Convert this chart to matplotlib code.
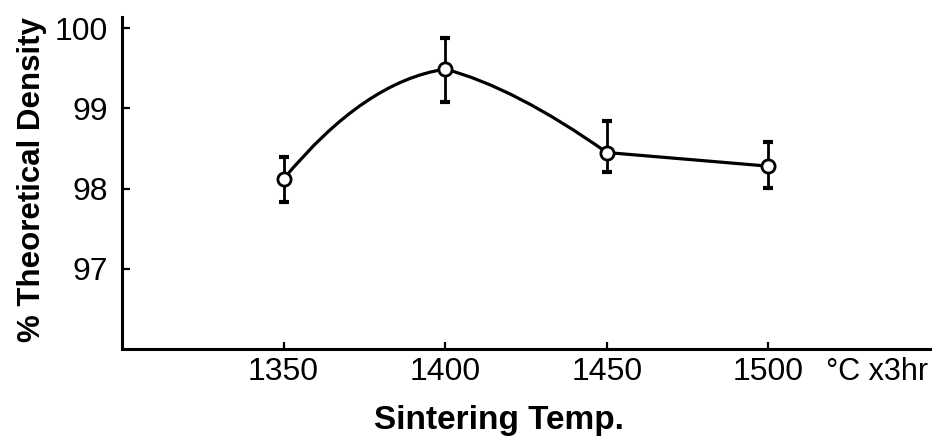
import matplotlib
matplotlib.use("Agg")
import matplotlib.pyplot as plt
from matplotlib.path import Path
from matplotlib.patches import PathPatch

# sintering temperature (deg C, 3 hr hold) vs. % of theoretical density
temps = [1350, 1400, 1450, 1500]
density = [98.12, 99.49, 98.45, 98.28]
density_hi = [98.39, 99.875, 98.84, 98.58]
density_lo = [97.83, 99.075, 98.21, 98.01]

y_ticks = [97, 98, 99, 100]
x_ticks = [1350, 1400, 1450, 1500]

# hand-drawn style curve: each segment bends through a control point placed
# at (fraction of run, fraction of rise); a 0.5/0.5 segment is straight
seg_bend = [(0.50, 0.89), (0.43, 0.22), (0.50, 0.50)]

TICK_FONT = ["Liberation Sans", "DejaVu Sans"]
LABEL_FONT = ["Liberation Sans", "DejaVu Sans"]

W, H = 948, 445
fig = plt.figure(figsize=(W / 100, H / 100), dpi=100)
ax = fig.add_axes([122 / W, 1 - 349 / H, (930 - 122) / W, (349 - 17) / H])

verts = [(temps[0], density[0])]
codes = [Path.MOVETO]
for i, (fx, fy) in enumerate(seg_bend):
    x0, x1 = temps[i], temps[i + 1]
    y0, y1 = density[i], density[i + 1]
    verts += [(x0 + fx * (x1 - x0), y0 + fy * (y1 - y0)), (x1, y1)]
    codes += [Path.CURVE3, Path.CURVE3]
ax.add_patch(PathPatch(Path(verts, codes), fill=False, edgecolor="black",
                       linewidth=2.3, capstyle="round", zorder=2))

yerr = [[d - lo for d, lo in zip(density, density_lo)],
        [hi - d for d, hi in zip(density, density_hi)]]
ax.errorbar(temps, density, yerr=yerr, fmt="none", ecolor="black",
            elinewidth=2.0, capsize=3.5, capthick=3, zorder=3)
ax.plot(temps, density, "o", mfc="white", mec="black", ms=9.5, mew=2.0, zorder=4)

ax.set_xlim(1300, 1550)
ax.set_ylim(96, 100.14)
ax.set_xticks(x_ticks)
ax.set_yticks(y_ticks)
ax.set_xticklabels([str(t) for t in x_ticks], family=TICK_FONT, fontsize=23)
ax.set_yticklabels([str(t) for t in y_ticks], family=TICK_FONT, fontsize=23)
ax.tick_params(axis="y", direction="in", length=6, width=1.6, pad=10)
ax.tick_params(axis="x", direction="in", length=5, width=1.6, pad=6)

for side in ("top", "right"):
    ax.spines[side].set_visible(False)
for side in ("left", "bottom"):
    ax.spines[side].set_linewidth(2.2)

fig.text(826 / W, 1 - 372 / H, "°C x3hr", family=TICK_FONT, fontsize=22,
         ha="left", va="center")
fig.text(499 / W, 1 - 421 / H, "Sintering Temp.", family=LABEL_FONT,
         fontsize=24, fontweight="bold", ha="center", va="center")
fig.text(32 / W, 1 - 180 / H, "% Theoretical Density", family=LABEL_FONT,
         fontsize=22.5, fontweight="bold", rotation=90, ha="center", va="center")

fig.savefig("out.png", dpi=100)
